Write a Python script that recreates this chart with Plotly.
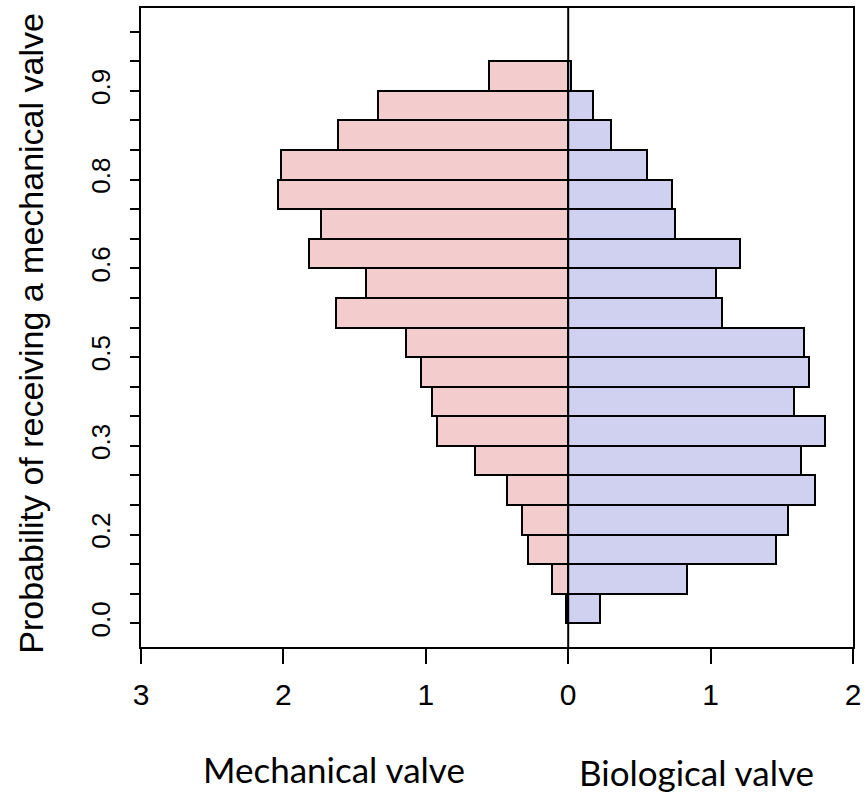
import plotly.graph_objects as go

# bin lower edges (probability of receiving a mechanical valve), bin width 0.05
bin_lower = [0.00, 0.05, 0.10, 0.15, 0.20, 0.25, 0.30, 0.35, 0.40, 0.45,
             0.50, 0.55, 0.60, 0.65, 0.70, 0.75, 0.80, 0.85, 0.90]
bin_width = 0.05

# density heights, mechanical valve (drawn to the left)
mechanical = [0.012, 0.114, 0.281, 0.323, 0.430, 0.658, 0.920, 0.953, 1.037, 1.141,
              1.630, 1.420, 1.820, 1.736, 2.041, 2.020, 1.620, 1.339, 0.556]
# density heights, biological valve (drawn to the right)
biological = [0.225, 0.832, 1.460, 1.544, 1.732, 1.636, 1.801, 1.583, 1.688, 1.655,
              1.079, 1.039, 1.204, 0.751, 0.730, 0.553, 0.300, 0.174, 0.020]

x_tick_vals = [-3, -2, -1, 0, 1, 2]
x_tick_text = ["3", "2", "1", "0", "1", "2"]
y_tick_vals = [round(i * 0.05, 2) for i in range(21)]
y_label_vals = [0.0, 0.15, 0.30, 0.45, 0.60, 0.75, 0.90]
y_label_text = ["0.0", "0.2", "0.3", "0.5", "0.6", "0.8", "0.9"]

centers = [b + bin_width / 2 for b in bin_lower]

fig = go.Figure()
fig.add_trace(go.Bar(
    y=centers, x=[-v for v in mechanical], orientation="h", width=bin_width,
    marker=dict(color="rgb(243,204,205)", line=dict(color="black", width=2)),
    showlegend=False, hoverinfo="skip"))
fig.add_trace(go.Bar(
    y=centers, x=biological, orientation="h", width=bin_width,
    marker=dict(color="rgb(208,208,240)", line=dict(color="black", width=2)),
    showlegend=False, hoverinfo="skip"))

ytext = []
for v in y_tick_vals:
    match = [t for lv, t in zip(y_label_vals, y_label_text) if abs(lv - v) < 1e-9]
    ytext.append(match[0] if match else "")

fig.update_layout(
    width=867, height=794,
    margin=dict(l=141, r=9, t=6, b=147),
    paper_bgcolor="white", plot_bgcolor="white",
    barmode="overlay", bargap=0,
    font=dict(family="Liberation Sans, Arial, sans-serif", color="black"),
    xaxis=dict(range=[-3, 2], tickvals=x_tick_vals, ticktext=x_tick_text,
               ticks="outside", ticklen=15, tickwidth=2, tickcolor="black",
               showline=True, linecolor="black", linewidth=2, mirror=True,
               showgrid=False, zeroline=False, tickfont=dict(size=30),
               ticklabelstandoff=5),
    yaxis=dict(range=[-0.04, 1.04], tickvals=y_tick_vals, ticktext=ytext,
               ticks="outside", ticklen=9, tickwidth=2, tickcolor="black",
               showline=True, linecolor="black", linewidth=2, mirror=True,
               showgrid=False, zeroline=False, tickangle=-90,
               tickfont=dict(size=26), ticklabelstandoff=10),
)

fig.add_shape(type="line", xref="x", yref="paper", x0=0, x1=0, y0=0, y1=1,
              line=dict(color="black", width=2), layer="above")

fig.add_annotation(text="Probability of receiving a mechanical valve",
                   xref="paper", yref="paper", x=(30 - 141) / 717, y=(647 - 332) / 641,
                   xanchor="center", yanchor="middle", textangle=-90, showarrow=False,
                   font=dict(size=34, family="Liberation Sans, Arial, sans-serif"))
fig.add_annotation(text="Mechanical valve", xref="paper", yref="paper",
                   x=(335 - 141) / 717, y=(647 - 769) / 641, xanchor="center", yanchor="middle",
                   showarrow=False, font=dict(size=35, family="Lato, sans-serif"))
fig.add_annotation(text="Biological valve", xref="paper", yref="paper",
                   x=(700 - 141) / 717, y=(647 - 772) / 641, xanchor="center", yanchor="middle",
                   showarrow=False, font=dict(size=35, family="Lato, sans-serif"))

fig.write_html("out.html", config={"displayModeBar": False},
               post_script="document.body.style.margin='0';")
